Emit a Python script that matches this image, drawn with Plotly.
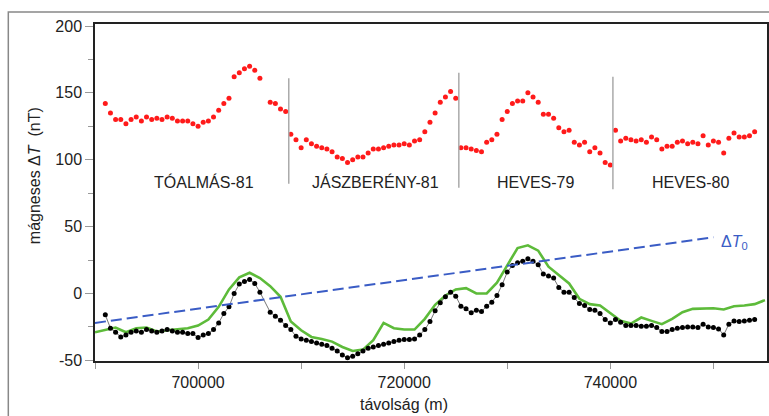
import plotly.graph_objects as go

# ---------------- data ----------------
# red: measured profiles (top), four survey lines
seg1_x = [691000, 691500, 692000, 692500, 693000, 693500, 694000, 694500, 695000, 695500,
          696000, 696500, 697000, 697500, 698000, 698500, 699000, 699500, 700000, 700500,
          701000, 701500, 702000, 702500, 703000, 703500, 704000, 704500, 705000, 705500,
          706000, 707000, 707500, 708000, 708500]
seg1_red = [142, 135, 130, 130, 127, 130, 132, 129, 132, 130,
            131, 130, 132, 131, 129, 129, 129, 127, 125, 128,
            129, 132, 137, 142, 146, 162, 165, 168, 170, 167,
            161, 143, 142, 138, 136]
seg1_blk = [-16, -26, -29, -32.5, -31, -29, -28, -29, -27, -28,
            -29, -28, -27, -28, -29, -29, -30, -30, -33, -31,
            -30, -27, -22, -15, -10, 0, 7, 9, 10.5, 7.5,
            1, -14, -17, -20, -24]

seg2_x = [709000, 709500, 710000, 710500, 711000, 711500, 712000, 712500, 713000, 713500,
          714000, 714500, 715000, 715500, 716000, 716500, 717000, 717500, 718000, 718500,
          719000, 719500, 720000, 720500, 721000, 721500, 722000, 722500, 723000, 723500,
          724000, 724500, 725000]
seg2_red = [119, 115, 109, 115, 112, 110, 109, 108, 106, 102,
            101, 98, 100, 102, 102, 105, 108, 108, 109, 110,
            111, 111, 112, 111, 114, 115, 121, 128, 135, 143,
            147, 151, 146]
seg2_blk = [-27, -32, -34, -35, -36, -37, -38, -39, -41, -43,
            -46, -48, -47, -45, -43, -41, -40, -39, -38, -37,
            -36, -35, -34.5, -34.5, -34, -31, -27, -21, -13, -7,
            -2.5, 1, -2]

seg3_x = [725500, 726000, 726500, 727000, 727500, 728000, 728500, 729000, 729500, 730000,
          730500, 731000, 731500, 732000, 732500, 733000, 733500, 734000, 734500, 735000,
          735500, 736000, 736500, 737000, 737500, 738000, 738500, 739000, 739500, 740000]
seg3_red = [109, 109, 108, 107, 106, 113, 115, 119, 130, 136,
            142, 144, 144, 150, 147, 143, 134, 134, 131, 124,
            121, 122, 113, 111, 113, 106, 109, 105, 98, 96]
seg3_blk = [-9.5, -11.5, -14.5, -12.5, -13.5, -9.5, -6.5, -1.5, 6.5, 16,
            21, 23, 24, 26, 24, 21.5, 14.5, 13, 11.5, 4.5,
            1, 1, -3, -7.5, -9, -12, -12.5, -15, -19.5, -22]

seg4_x = [740500, 741000, 741500, 742000, 742500, 743000, 743500, 744000, 744500, 745000,
          745500, 746000, 746500, 747000, 747500, 748000, 748500, 749000, 749500, 750000,
          750500, 751000, 751500, 752000, 752500, 753000, 753500, 754000]
seg4_red = [122, 114, 116, 115, 114, 115, 113, 117, 115, 108,
            110, 110, 113, 114, 112, 113, 112, 118, 111, 114,
            113, 105, 116, 120, 117, 117, 118, 121]
seg4_blk = [-19.5, -21.5, -24, -24, -24, -24.5, -24.5, -24, -25.5, -28.5,
            -28.5, -27, -26, -25.5, -25, -25, -25.5, -23, -25, -25.5,
            -26.5, -31, -23, -20.5, -21, -20.5, -20, -19.5]

# green: reference curve (1 km)
green_x = [690000, 691000, 692000, 693000, 694000, 695000, 696000, 697000, 698000, 699000,
           700000, 701000, 702000, 703000, 704000, 705000, 706000, 707000, 708000, 709000,
           710000, 711000, 712000, 713000, 714000, 715000, 716000, 717000, 718000, 719000,
           720000, 721000, 722000, 723000, 724000, 725000, 726000, 727000, 728000, 729000,
           730000, 731000, 732000, 733000, 734000, 735000, 736000, 737000, 738000, 739000,
           740000, 741000, 742000, 743000, 744000, 745000, 746000, 747000, 748000, 749000,
           750000, 751000, 752000, 753000, 754000, 755000]
green_y = [-29, -27.5, -25.5, -29, -26, -25.5, -28.5, -27.5, -27, -26,
           -24, -19.5, -10, 3, 12, 15.5, 11.5, 5.5, -2.5, -21,
           -27.5, -32.5, -34, -36, -40, -43, -42, -35, -22, -26,
           -27, -27, -19, -8.5, -1.5, 3, 4, 0, 0, 8,
           21, 34, 36, 32, 20, 13.5, 7.5, -4, -8, -9,
           -15, -20.5, -22.5, -18, -20.5, -23, -19, -14, -11.5, -11,
           -11, -12, -9.5, -9, -8, -5]

# dashed regional trend  ΔT0
dt0_x = [690000, 750000]
dt0_y = [-22, 42]
dt0_label_x = 752000
dt0_label_y = 38

# survey-line separators and names
sep_x = [708800, 725300, 740250]
sep_top = [161, 165, 162]
sep_bot = [82, 79, 78]
line_names = ["TÓALMÁS-81", "JÁSZBERÉNY-81", "HEVES-79", "HEVES-80"]
name_x = [700550, 717260, 732770, 747820]
name_y = 83

x_ticks = [690000, 700000, 710000, 720000, 730000, 740000, 750000]
x_ticktext = ["", "700000", "", "720000", "", "740000", ""]
y_ticks = [-50, 0, 50, 100, 150, 200]
y_ticktext = ["-50", "0", "50", "100", "150", "200"]
y_minor = [-25, 25, 75, 125, 175]

# ---------------- figure ----------------
FONT = "Arial, Liberation Sans, sans-serif"
fig = go.Figure()

segs = [(seg1_x, seg1_red, seg1_blk), (seg2_x, seg2_red, seg2_blk),
        (seg3_x, seg3_red, seg3_blk), (seg4_x, seg4_red, seg4_blk)]

for sx, sred, sblk in segs:
    fig.add_trace(go.Scatter(x=sx, y=sred, mode="markers",
                             marker=dict(color="#ff1a1a", size=5),
                             showlegend=False, hoverinfo="skip"))

fig.add_trace(go.Scatter(x=green_x, y=green_y, mode="lines",
                         line=dict(color="#5dbb3a", width=2.6),
                         showlegend=False, hoverinfo="skip"))

blk_x = seg1_x + seg2_x + seg3_x + seg4_x
blk_y = seg1_blk + seg2_blk + seg3_blk + seg4_blk
fig.add_trace(go.Scatter(x=blk_x, y=blk_y, mode="lines+markers",
                         line=dict(color="#777777", width=1),
                         marker=dict(color="black", size=5),
                         showlegend=False, hoverinfo="skip"))

fig.add_trace(go.Scatter(x=dt0_x, y=dt0_y, mode="lines",
                         line=dict(color="#3a5cc5", width=2, dash="11px,5px"),
                         showlegend=False, hoverinfo="skip"))

for sx, st, sb in zip(sep_x, sep_top, sep_bot):
    fig.add_shape(type="line", x0=sx, x1=sx, y0=sb, y1=st, xref="x", yref="y",
                  line=dict(color="#aaaaaa", width=1.5))

for nm, nx in zip(line_names, name_x):
    fig.add_annotation(x=nx, y=name_y, text=nm, showarrow=False,
                       font=dict(family=FONT, size=16, color="#222"),
                       xanchor="center", yanchor="middle")

fig.add_annotation(x=dt0_label_x, y=dt0_label_y, text="Δ<i>T</i><sub>0</sub>",
                   showarrow=False,
                   font=dict(family=FONT, size=16, color="#3a5cc5"),
                   xanchor="center", yanchor="middle")

# axis titles
fig.add_annotation(x=720000, xref="x", y=-0.13, yref="paper",
                   text="távolság (m)", showarrow=False,
                   font=dict(family=FONT, size=16, color="#222"),
                   xanchor="center", yanchor="middle")
fig.add_annotation(x=-0.09, xref="paper", y=0.55, yref="paper",
                   text="mágneses Δ<i>T</i>  (nT)", showarrow=False, textangle=-90,
                   font=dict(family=FONT, size=16, color="#222"),
                   xanchor="center", yanchor="middle")

# outer frame
fig.add_shape(type="path", xref="paper", yref="paper",
              path="M -0.129,-0.2 L -0.129,1.0356 L 1.01,1.0356",
              line=dict(color="#888888", width=1.5))

fig.update_xaxes(range=[690000, 755200], showgrid=False, zeroline=False,
                 showline=True, linecolor="#222", linewidth=1.5, mirror=True,
                 tickmode="array", tickvals=x_ticks, ticktext=x_ticktext,
                 ticks="outside", ticklen=6, tickcolor="#999", tickwidth=1,
                 tickfont=dict(family=FONT, size=16, color="#222"))
fig.update_yaxes(range=[-50.5, 201.5], showgrid=False, zeroline=False,
                 showline=True, linecolor="#222", linewidth=1.5, mirror=True,
                 tickmode="array", tickvals=y_ticks, ticktext=y_ticktext,
                 ticks="outside", ticklen=8, tickcolor="#999", tickwidth=1,
                 minor=dict(tickvals=y_minor, ticks="outside", ticklen=5,
                            tickcolor="#999", tickwidth=1),
                 tickfont=dict(family=FONT, size=16, color="#222"))

fig.update_layout(width=769, height=416,
                  margin=dict(l=95, r=0, t=24, b=55),
                  plot_bgcolor="white", paper_bgcolor="white",
                  font=dict(family=FONT, size=16, color="#222"),
                  showlegend=False)

fig.write_html("out.html", config={"displayModeBar": False},
               post_script="document.body.style.margin='0px';document.body.style.overflow='hidden';")
